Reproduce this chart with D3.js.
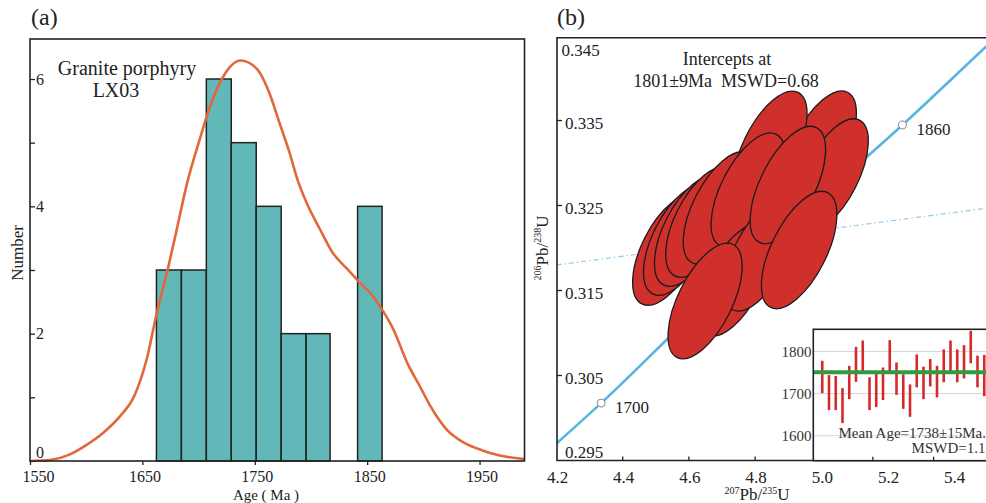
<!DOCTYPE html>
<html>
<head>
<meta charset="utf-8">
<script src="https://cdn.jsdelivr.net/npm/d3@7"></script>
<style>
  html, body { margin: 0; padding: 0; background: #fff; }
  svg { display: block; font-family: "Liberation Serif", "Times New Roman", serif; }
  svg text { font-family: "Liberation Serif", "Times New Roman", serif; }
</style>
</head>
<body>
<svg id="chart" width="986" height="503"></svg>
<script>
"use strict";

// ---- (a) zircon age histogram + density curve ----
var binLo = [1662.5, 1684.7, 1706.9, 1729.1, 1751.3, 1773.5, 1795.7, 1841.5];
var binHi = [1684.7, 1706.9, 1729.1, 1751.3, 1773.5, 1795.7, 1817.0, 1863.3];
var binCount = [3, 3, 6, 5, 4, 2, 2, 4];

var kdeAge = [1550, 1569, 1585, 1600, 1615, 1630, 1643, 1654, 1663, 1672, 1680, 1690, 1701, 1710,
    1719, 1728, 1737, 1748, 1754, 1763, 1772, 1781, 1788, 1796, 1808, 1819, 1832, 1843, 1855,
    1861, 1873, 1886, 1897, 1906, 1921, 1937, 1952, 1967, 1990];
var kdeVal = [0, 0.02, 0.10, 0.25, 0.44, 0.70, 1.03, 1.61, 2.34, 2.97, 3.59, 4.38, 5.05, 5.56,
    5.94, 6.19, 6.29, 6.22, 6.11, 5.78, 5.31, 4.84, 4.42, 4.06, 3.64, 3.28, 3.02, 2.81, 2.59,
    2.44, 2.08, 1.53, 1.17, 0.87, 0.49, 0.28, 0.17, 0.09, 0.03];

var ageTicks = [1550, 1650, 1750, 1850, 1950];
var countTicks = [0, 2, 4, 6];
var countMinor = [1, 2, 3, 4, 5, 6];

// ---- (b) concordia diagram ----
var concX = [4.2, 4.3348, 4.6040, 4.8869, 5.2452, 5.4975, 5.6];
var concY = [0.2970, 0.30175, 0.31189, 0.32210, 0.33447, 0.34368, 0.3474];
var markAge = [1700, 1860];
var markX = [4.3348, 5.2452];
var markY = [0.30175, 0.33447];
var discX = [4.2, 5.6];
var discY = [0.3180, 0.3252];

// spot ratios, 1 sigma errors and error correlation (drawing order)
var ellX = [4.996, 4.845, 5.032, 4.540, 4.573, 4.606, 4.640, 4.694, 4.779, 4.739, 4.815, 4.899, 4.933, 4.649];
var ellY = [0.33188, 0.33165, 0.32859, 0.31976, 0.32094, 0.32200, 0.32306, 0.32471, 0.32682, 0.31624, 0.31918, 0.32741, 0.31976, 0.31376];
var ellSX = [0.110, 0.112, 0.110, 0.110, 0.110, 0.110, 0.110, 0.111, 0.112, 0.110, 0.110, 0.114, 0.114, 0.112];
var ellSY = [0.0066, 0.0068, 0.0066, 0.0065, 0.0065, 0.0065, 0.0065, 0.0066, 0.0067, 0.0066, 0.0066, 0.0069, 0.0069, 0.0068];
var ellRho = [0.60, 0.60, 0.60, 0.58, 0.58, 0.58, 0.58, 0.60, 0.60, 0.60, 0.60, 0.60, 0.60, 0.60];

var ratioXTicks = [4.2, 4.4, 4.6, 4.8, 5.0, 5.2, 5.4];
var ratioYTicks = [0.295, 0.305, 0.315, 0.325, 0.335, 0.345];

// ---- inset: weighted mean ages ----
var spotHi = [1778, 1744, 1742, 1713, 1766, 1811, 1826, 1739, 1748, 1762, 1827, 1774, 1746,
    1722, 1793, 1764, 1782, 1766, 1805, 1826, 1805, 1815, 1849, 1790, 1792];
var spotLo = [1701, 1661, 1661, 1630, 1687, 1728, 1747, 1661, 1668, 1685, 1750, 1697, 1664,
    1645, 1715, 1687, 1717, 1691, 1727, 1750, 1727, 1736, 1772, 1715, 1694];
var meanAge = 1751;
var insetAgeTicks = [1600, 1700, 1800];
var insetSpotTicks = [8.5, 17.5];

var ink = "#222";
var serif = "Liberation Serif, Times New Roman, serif";
var svg = d3.select("#chart").attr("font-family", serif);
svg.append("rect").attr("width", 986).attr("height", 503).attr("fill", "#fff");

// ===================== panel (a) =====================
var A = { left: 30, right: 524.5, top: 39, bottom: 461 };
var xA = d3.scaleLinear().domain([1550, 1990]).range([A.left, A.right]);
var yA = d3.scaleLinear().domain([0, 6]).range([A.bottom, 79]);
var gA = svg.append("g");

gA.selectAll("rect.bin")
    .data(binCount)
    .enter()
    .append("rect")
    .attr("class", "bin")
    .attr("x", (d, i) => xA(binLo[i]))
    .attr("width", (d, i) => xA(binHi[i]) - xA(binLo[i]))
    .attr("y", d => yA(d))
    .attr("height", d => yA(0) - yA(d))
    .attr("fill", "#62b8b8")
    .attr("stroke", ink)
    .attr("stroke-width", 1.5);

var kdeLine = d3.line()
    .x((d, i) => xA(kdeAge[i]))
    .y(d => yA(d))
    .curve(d3.curveMonotoneX);

gA.append("path")
    .attr("d", kdeLine(kdeVal))
    .attr("fill", "none")
    .attr("stroke", "#e2683a")
    .attr("stroke-width", 2.6);

gA.append("rect")
    .attr("x", A.left).attr("y", A.top)
    .attr("width", A.right - A.left).attr("height", A.bottom - A.top)
    .attr("fill", "none").attr("stroke", ink).attr("stroke-width", 1.6);

// inward ticks on the count axis
gA.append("g")
    .attr("transform", "translate(" + A.left + ",0)")
    .call(d3.axisRight(yA).tickValues(countMinor).tickSize(5).tickFormat(""))
    .call(g => g.select(".domain").remove())
    .selectAll("line").attr("stroke", ink).attr("stroke-width", 1.3);

gA.selectAll("text.cnt")
    .data(countTicks)
    .enter()
    .append("text")
    .attr("class", "cnt")
    .attr("x", 36)
    .attr("y", d => Math.min(yA(d), A.bottom - 9) + 5.5)
    .attr("font-size", 16)
    .attr("fill", ink)
    .text(d => d);

var axA = gA.append("g")
    .attr("transform", "translate(0," + A.bottom + ")")
    .call(d3.axisBottom(xA).tickValues(ageTicks).tickSize(4).tickSizeOuter(0).tickPadding(6).tickFormat(d3.format("d")));
axA.attr("font-family", serif);
axA.select(".domain").remove();
axA.selectAll("line").attr("stroke", ink).attr("stroke-width", 1.3);
axA.selectAll("text")
    .attr("font-size", 16)
    .attr("fill", ink)
    .attr("dx", d => d === 1550 ? 8 : 2);

gA.append("text")
    .attr("x", 266).attr("y", 500)
    .attr("text-anchor", "middle").attr("font-size", 15).attr("fill", ink)
    .text("Age ( Ma )");

gA.append("text")
    .attr("transform", "translate(23,253) rotate(-90)")
    .attr("text-anchor", "middle").attr("font-size", 17).attr("fill", ink)
    .text("Number");

gA.append("text")
    .attr("x", 127).attr("y", 75)
    .attr("text-anchor", "middle").attr("font-size", 20).attr("fill", ink)
    .text("Granite porphyry");
gA.append("text")
    .attr("x", 116).attr("y", 96.5)
    .attr("text-anchor", "middle").attr("font-size", 20).attr("fill", ink)
    .text("LX03");

svg.append("text").attr("x", 31).attr("y", 25).attr("font-size", 24).attr("fill", ink).text("(a)");
svg.append("text").attr("x", 557).attr("y", 25).attr("font-size", 24).attr("fill", ink).text("(b)");

// ===================== panel (b) =====================
var B = { left: 557, right: 1000, top: 37.7, bottom: 460.5 };
var xB = d3.scaleLinear().domain([4.2, 5.4]).range([556.5, 953.7]);
var yB = d3.scaleLinear().domain([0.295, 0.345]).range([460.5, 35.5]);

svg.append("clipPath").attr("id", "clipB")
    .append("rect")
    .attr("x", B.left).attr("y", B.top)
    .attr("width", B.right - B.left).attr("height", B.bottom - B.top);

var gB = svg.append("g");
var plotB = gB.append("g").attr("clip-path", "url(#clipB)");

// discordia (dash-dot)
plotB.append("path")
    .attr("d", d3.line().x((d, i) => xB(discX[i])).y(d => yB(d))(discY))
    .attr("fill", "none")
    .attr("stroke", "#8cc6e6")
    .attr("stroke-width", 1.1)
    .attr("stroke-dasharray", "5,3,1.5,3");

// concordia
plotB.append("path")
    .attr("d", d3.line().x((d, i) => xB(concX[i])).y(d => yB(d)).curve(d3.curveMonotoneX)(concY))
    .attr("fill", "none")
    .attr("stroke", "#5ab4e2")
    .attr("stroke-width", 2.6);

// error ellipses
var kx = xB(1) - xB(0);
var ky = yB(0) - yB(1);
function ellipseShape(i) {
    var Sx = ellSX[i] * kx, Sy = ellSY[i] * ky, c = -ellRho[i] * Sx * Sy;
    var m = (Sx * Sx + Sy * Sy) / 2;
    var d = Math.sqrt(Math.pow((Sx * Sx - Sy * Sy) / 2, 2) + c * c);
    return {
        rx: Math.sqrt(m + d),
        ry: Math.sqrt(m - d),
        ang: 0.5 * Math.atan2(2 * c, Sx * Sx - Sy * Sy) * 180 / Math.PI
    };
}

plotB.selectAll("ellipse")
    .data(ellX)
    .enter()
    .append("ellipse")
    .each(function (d, i) {
        var s = ellipseShape(i);
        d3.select(this)
            .attr("rx", s.rx)
            .attr("ry", s.ry)
            .attr("transform", "translate(" + xB(d) + "," + yB(ellY[i]) + ") rotate(" + s.ang + ")");
    })
    .attr("fill", "#d0302c")
    .attr("stroke", "#1a1a1a")
    .attr("stroke-width", 1.3);

plotB.selectAll("circle.mark")
    .data(markAge)
    .enter()
    .append("circle")
    .attr("class", "mark")
    .attr("cx", (d, i) => xB(markX[i]))
    .attr("cy", (d, i) => yB(markY[i]))
    .attr("r", 4)
    .attr("fill", "#fff")
    .attr("stroke", "#8a8a8a")
    .attr("stroke-width", 1);

plotB.selectAll("text.mark")
    .data(markAge)
    .enter()
    .append("text")
    .attr("class", "mark")
    .attr("x", (d, i) => xB(markX[i]) + 14)
    .attr("y", (d, i) => yB(markY[i]) + 10)
    .attr("font-size", 17)
    .attr("fill", ink)
    .text(d => d);

gB.append("text")
    .attr("x", 727).attr("y", 65)
    .attr("text-anchor", "middle").attr("font-size", 18).attr("fill", ink)
    .text("Intercepts at");
gB.append("text")
    .attr("x", 726).attr("y", 87)
    .attr("text-anchor", "middle").attr("font-size", 18).attr("fill", ink)
    .text("1801\u00b19Ma\u00a0\u00a0MSWD=0.68");

// x ticks of main diagram (inside), inset covers the right ones
gB.selectAll("line.xt")
    .data(ratioXTicks.slice(1))
    .enter()
    .append("line")
    .attr("class", "xt")
    .attr("x1", d => xB(d)).attr("x2", d => xB(d))
    .attr("y1", B.bottom).attr("y2", B.bottom - 4)
    .attr("stroke", ink).attr("stroke-width", 1.3);

// ---- inset ----
var I = { left: 813.3, top: 329.3, right: 1000, bottom: 460.7 };
var xI = d3.scaleLinear().domain([0, 26]).range([815.5, 991]);
var yI = d3.scaleLinear().domain([1600, 1800]).range([435.8, 351.5]);
var gI = svg.append("g");

gI.append("rect")
    .attr("x", I.left).attr("y", I.top)
    .attr("width", I.right - I.left).attr("height", I.bottom - I.top)
    .attr("fill", "#fff");

gI.selectAll("line.grid")
    .data(insetAgeTicks)
    .enter()
    .append("line")
    .attr("class", "grid")
    .attr("x1", I.left).attr("x2", I.right)
    .attr("y1", d => yI(d)).attr("y2", d => yI(d))
    .attr("stroke", "#d6d6d6").attr("stroke-width", 1);

gI.selectAll("line.spot")
    .data(spotHi)
    .enter()
    .append("line")
    .attr("class", "spot")
    .attr("x1", (d, i) => xI(i + 1)).attr("x2", (d, i) => xI(i + 1))
    .attr("y1", d => yI(d)).attr("y2", (d, i) => yI(spotLo[i]))
    .attr("stroke", "#d42a2a").attr("stroke-width", 2.6);

gI.append("line")
    .attr("x1", I.left).attr("x2", I.right)
    .attr("y1", yI(meanAge)).attr("y2", yI(meanAge))
    .attr("stroke", "#2f9a3e").attr("stroke-width", 4);

gI.selectAll("line.it")
    .data(insetSpotTicks)
    .enter()
    .append("line")
    .attr("class", "it")
    .attr("x1", d => xI(d)).attr("x2", d => xI(d))
    .attr("y1", I.bottom).attr("y2", I.bottom - 4)
    .attr("stroke", ink).attr("stroke-width", 1.3);

gI.selectAll("text.ia")
    .data(insetAgeTicks)
    .enter()
    .append("text")
    .attr("class", "ia")
    .attr("x", 811.5)
    .attr("y", d => yI(d) + 5)
    .attr("text-anchor", "end")
    .attr("font-size", 15)
    .attr("fill", "#333")
    .text(d => d);

gI.append("text")
    .attr("x", 986).attr("y", 438.3)
    .attr("text-anchor", "end").attr("font-size", 15).attr("fill", "#333")
    .text("Mean Age=1738\u00b115Ma.");
gI.append("text")
    .attr("x", 985.5).attr("y", 453.3)
    .attr("text-anchor", "end").attr("font-size", 15).attr("fill", "#333")
    .text("MSWD=1.1");

gI.append("rect")
    .attr("x", I.left).attr("y", I.top)
    .attr("width", I.right - I.left).attr("height", I.bottom - I.top)
    .attr("fill", "none").attr("stroke", ink).attr("stroke-width", 1.6);

// frame of (b)
gB.append("path")
    .attr("d", "M" + B.right + "," + B.top + "H" + B.left + "V" + B.bottom + "H" + B.right)
    .attr("fill", "none").attr("stroke", ink).attr("stroke-width", 1.6);

gB.selectAll("line.yt")
    .data(ratioYTicks.slice(1, 5))
    .enter()
    .append("line")
    .attr("class", "yt")
    .attr("x1", B.left).attr("x2", B.left + 5)
    .attr("y1", d => yB(d)).attr("y2", d => yB(d))
    .attr("stroke", ink).attr("stroke-width", 1.3);

gB.selectAll("text.yl")
    .data(ratioYTicks)
    .enter()
    .append("text")
    .attr("class", "yl")
    .attr("x", d => d === 0.345 ? 561.5 : 565)
    .attr("y", d => Math.max(B.top + 10.5, Math.min(yB(d), B.bottom - 10.5)) + 8)
    .attr("font-size", 17)
    .attr("fill", ink)
    .text(d => d3.format(".3f")(d));

gB.selectAll("text.xl")
    .data(ratioXTicks)
    .enter()
    .append("text")
    .attr("class", "xl")
    .attr("x", d => xB(d) + 1)
    .attr("y", 482.5)
    .attr("text-anchor", "middle")
    .attr("font-size", 17)
    .attr("fill", ink)
    .text(d => d3.format(".1f")(d));

var xLab = gB.append("text")
    .attr("x", 757).attr("y", 499.5)
    .attr("text-anchor", "middle").attr("font-size", 17).attr("fill", ink);
xLab.append("tspan").attr("font-size", 10).attr("dy", -6).text("207");
xLab.append("tspan").attr("dy", 6).text("Pb/");
xLab.append("tspan").attr("font-size", 10).attr("dy", -6).text("235");
xLab.append("tspan").attr("dy", 6).text("U");

var yLab = gB.append("text")
    .attr("transform", "translate(548,248) rotate(-90)")
    .attr("text-anchor", "middle").attr("font-size", 17).attr("fill", ink);
yLab.append("tspan").attr("font-size", 10).attr("dy", -7).text("206");
yLab.append("tspan").attr("dy", 7).text("Pb/");
yLab.append("tspan").attr("font-size", 10).attr("dy", -7).text("238");
yLab.append("tspan").attr("dy", 7).text("U");
</script>
</body>
</html>
